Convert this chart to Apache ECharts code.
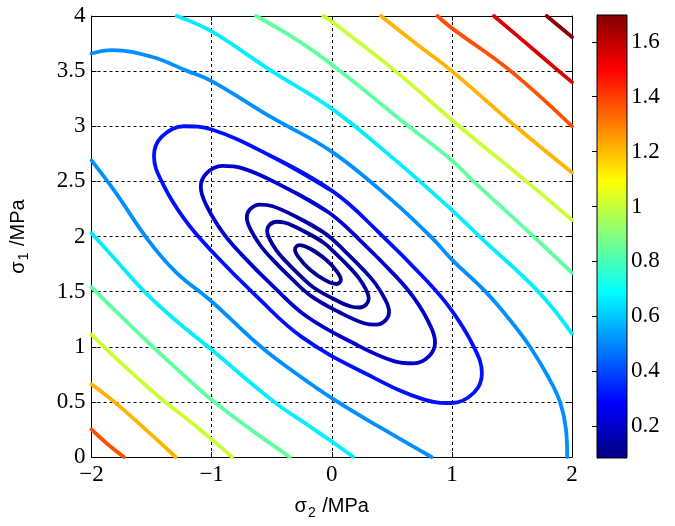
<!DOCTYPE html>
<html>
<head>
<meta charset="utf-8">
<script src="https://cdn.jsdelivr.net/npm/echarts@6/dist/echarts.min.js"></script>
<style>html,body{margin:0;padding:0;background:#fff}#chart{width:675px;height:526px}</style>
</head>
<body>
<div id="chart"></div>
<script>
// ---------- data ----------
const xTicks = [-2, -1, 0, 1, 2];
const yTicks = [0, 0.5, 1, 1.5, 2, 2.5, 3, 3.5, 4];
const colorRange = [0.083, 1.698];
const colorTicks = [0.2, 0.4, 0.6, 0.8, 1, 1.2, 1.4, 1.6];

// contour levels (value of each drawn iso-line)
const levelE1 = 0.103, levelE2 = 0.127, levelE3 = 0.144, levelE4 = 0.204, levelE5 = 0.309;
const levelLightBlue = 0.511, levelCyan = 0.664, levelGreen = 0.84, levelYellowGreen = 1.012;
const levelOrange = 1.211, levelOrangeRed = 1.371, levelRed = 1.553, levelDarkRed = 1.68;

// closed contours around the minimum  [sigma2, sigma1]  (loop repeats its first two points)
const ellipse1 = [[-0.171,1.884],[-0.045,1.787],[0.04,1.687],[0.076,1.607],[0.041,1.569],[-0.059,1.606],[-0.185,1.703],[-0.27,1.803],[-0.306,1.883],[-0.271,1.921],[-0.171,1.884],[-0.045,1.787]];
const ellipse2 = [[-0.239,2.052],[-0.075,1.95],[0.04,1.838],[0.164,1.702],[0.229,1.618],[0.285,1.519],[0.308,1.44],[0.288,1.385],[0.231,1.356],[0.159,1.365],[0.009,1.438],[-0.155,1.54],[-0.27,1.652],[-0.394,1.788],[-0.459,1.872],[-0.515,1.971],[-0.538,2.05],[-0.518,2.105],[-0.461,2.134],[-0.389,2.125],[-0.239,2.052],[-0.075,1.95]];
const ellipse3 = [[-0.289,2.175],[-0.059,2.031],[0.102,1.875],[0.276,1.684],[0.367,1.567],[0.445,1.428],[0.477,1.318],[0.449,1.242],[0.369,1.2],[0.269,1.213],[0.059,1.315],[-0.171,1.459],[-0.332,1.615],[-0.506,1.806],[-0.597,1.923],[-0.675,2.062],[-0.707,2.172],[-0.679,2.248],[-0.599,2.29],[-0.499,2.277],[-0.289,2.175],[-0.059,2.031]];
const ellipse4 = [[-0.401,2.452],[-0.022,2.216],[0.242,1.959],[0.528,1.645],[0.678,1.452],[0.806,1.224],[0.86,1.042],[0.813,0.917],[0.681,0.849],[0.517,0.87],[0.171,1.038],[-0.208,1.274],[-0.472,1.531],[-0.758,1.845],[-0.908,2.038],[-1.036,2.266],[-1.09,2.448],[-1.043,2.573],[-0.911,2.641],[-0.747,2.62],[-0.401,2.452],[-0.022,2.216]];
const ellipse5 = [[-0.515,2.735],[0.015,2.405],[0.385,2.045],[0.785,1.605],[0.995,1.335],[1.175,1.015],[1.25,0.76],[1.185,0.585],[1.0,0.49],[0.77,0.52],[0.285,0.755],[-0.245,1.085],[-0.615,1.445],[-1.015,1.885],[-1.225,2.155],[-1.405,2.475],[-1.48,2.73],[-1.415,2.905],[-1.23,3.0],[-1.0,2.97],[-0.515,2.735],[0.015,2.405]];

// open contours, upper-right side
const lightBlueUpper = [[-2,3.66],[-1.83,3.69],[-1.5,3.63],[-1.2,3.5],[-1,3.41],[-0.5,3.08],[0,2.77],[0.5,2.33],[0.85,1.97],[1,1.79],[1.28,1.5],[1.5,1.22],[1.65,1.0],[1.8,0.73],[1.9,0.5],[1.95,0.25],[1.96,0]];
const cyanUpper = [[-1.29,4],[-1,3.86],[-0.5,3.5],[0,3.16],[0.5,2.72],[1,2.24],[1.26,1.97],[1.72,1.5],[2,1.12]];
const greenUpper = [[-0.63,4],[-0.3,3.79],[0,3.56],[0.64,3.0],[1,2.69],[1.18,2.5],[1.68,2.0],[2,1.67]];
const yellowGreenUpper = [[-0.07,4],[0,3.95],[0.53,3.5],[1.06,3.0],[1.62,2.5],[2,2.15]];
const orangeUpper = [[0.41,4],[0.7,3.75],[1,3.5],[1.53,3.0],[2,2.58]];
const orangeRedUpper = [[0.88,4],[1,3.89],[1.49,3.5],[2,3.0]];
const redUpper = [[1.35,4],[1.6,3.77],[1.89,3.5],[2,3.4]];
const darkRedUpper = [[1.79,4],[1.9,3.9],[2,3.81]];

// open contours, lower-left side
const lightBlueLower = [[-2,2.69],[-1.8,2.4],[-1.53,1.97],[-1.3,1.68],[-1,1.41],[-0.59,1.0],[-0.3,0.76],[0.02,0.52],[0.4,0.27],[0.83,0]];
const cyanLower = [[-2,2.03],[-1.8,1.79],[-1.56,1.5],[-1.3,1.24],[-1.03,1.0],[-0.48,0.5],[-0.2,0.29],[0,0.14],[0.18,0]];
const greenLower = [[-2,1.54],[-1.75,1.27],[-1.49,1.0],[-1.24,0.75],[-0.99,0.51],[-0.65,0.23],[-0.35,0]];
const yellowGreenLower = [[-2,1.11],[-1.8,0.9],[-1.6,0.7],[-1.4,0.51],[-1.2,0.34],[-1,0.16],[-0.83,0]];
const orangeLower = [[-2,0.66],[-1.81,0.5],[-1.55,0.25],[-1.3,0]];
const orangeRedLower = [[-2,0.25],[-1.87,0.12],[-1.73,0]];

// ---------- build ----------
const contourTable = [
  [levelE1, ellipse1], [levelE2, ellipse2], [levelE3, ellipse3], [levelE4, ellipse4], [levelE5, ellipse5],
  [levelLightBlue, lightBlueUpper], [levelLightBlue, lightBlueLower],
  [levelCyan, cyanUpper], [levelCyan, cyanLower],
  [levelGreen, greenUpper], [levelGreen, greenLower],
  [levelYellowGreen, yellowGreenUpper], [levelYellowGreen, yellowGreenLower],
  [levelOrange, orangeUpper], [levelOrange, orangeLower],
  [levelOrangeRed, orangeRedUpper], [levelOrangeRed, orangeRedLower],
  [levelRed, redUpper], [levelDarkRed, darkRedUpper]
];

function clamp01(v) { return Math.max(0, Math.min(1, v)); }
function jet(t) {
  t = clamp01(t);
  const r = clamp01(1.5 - Math.abs(4 * t - 3));
  const g = clamp01(1.5 - Math.abs(4 * t - 2));
  const b = clamp01(1.5 - Math.abs(4 * t - 1));
  return 'rgb(' + Math.round(r * 255) + ',' + Math.round(g * 255) + ',' + Math.round(b * 255) + ')';
}
function levelColor(v) { return jet((v - colorRange[0]) / (colorRange[1] - colorRange[0])); }

const serif = 'Liberation Serif';
const sans = 'Liberation Sans';
const tickFont = { fontFamily: serif, fontSize: 23, color: '#000' };
const dash = { color: '#000', width: 1, type: [3, 3] };
const blackLine = { color: '#000', width: 1 };
const minusFmt = v => (v < 0 ? '\u2212' + (-v) : String(v));

const titleRich = {
  s: { fontFamily: sans, fontSize: 20, color: '#000' },
  sub: { fontFamily: sans, fontSize: 14, color: '#000', padding: [13, 1, 0, 1] }
};

const contourSeries = contourTable.map(([lvl, pts]) => ({
  type: 'line',
  xAxisIndex: 0, yAxisIndex: 0,
  data: pts,
  smooth: 0.4,
  showSymbol: false,
  symbol: 'none',
  clip: true,
  silent: true,
  lineStyle: { color: levelColor(lvl), width: 3.8, join: 'round', cap: 'round' },
  z: 3
}));

const jetStops = [0, 0.125, 0.375, 0.625, 0.875, 1].map(o => ({ offset: o, color: jet(o) }));

const colorbarSeries = {
  type: 'custom',
  xAxisIndex: 2, yAxisIndex: 2,
  data: [[0, colorRange[0], 1, colorRange[1]]],
  silent: true,
  renderItem: function (params, api) {
    const p0 = api.coord([api.value(0), api.value(1)]);
    const p1 = api.coord([api.value(2), api.value(3)]);
    return {
      type: 'rect',
      shape: { x: p0[0], y: p1[1], width: p1[0] - p0[0], height: p0[1] - p1[1] },
      style: {
        fill: new echarts.graphic.LinearGradient(0, 1, 0, 0, jetStops),
        stroke: '#000', lineWidth: 1
      }
    };
  },
  z: 2
};

const chart = echarts.init(document.getElementById('chart'), null, { renderer: 'canvas' });
chart.setOption({
  animation: false,
  backgroundColor: '#fff',
  grid: [
    { left: 90, top: 16, width: 482, height: 441, containLabel: false },
    { left: 597, top: 15, width: 30, height: 443, containLabel: false }
  ],
  xAxis: [
    {
      gridIndex: 0, type: 'value', position: 'bottom',
      min: xTicks[0], max: xTicks[xTicks.length - 1], interval: 1,
      axisLine: { show: true, onZero: false, lineStyle: blackLine },
      axisTick: { show: true, inside: true, length: 5, lineStyle: blackLine },
      axisLabel: Object.assign({ margin: 6, formatter: minusFmt }, tickFont),
      splitLine: { show: true, lineStyle: dash },
      name: '{s|\u03c3}{sub|2}{s| /MPa}',
      nameLocation: 'middle', nameGap: 36,
      nameTextStyle: { rich: titleRich }
    },
    {
      gridIndex: 0, type: 'value', position: 'top',
      min: xTicks[0], max: xTicks[xTicks.length - 1], interval: 1,
      axisLine: { show: true, onZero: false, lineStyle: blackLine },
      axisTick: { show: true, inside: true, length: 5, lineStyle: blackLine },
      axisLabel: { show: false },
      splitLine: { show: false }
    },
    { gridIndex: 1, type: 'value', min: 0, max: 1, show: false }
  ],
  yAxis: [
    {
      gridIndex: 0, type: 'value', position: 'left',
      min: yTicks[0], max: yTicks[yTicks.length - 1], interval: 0.5,
      axisLine: { show: true, onZero: false, lineStyle: blackLine },
      axisTick: { show: true, inside: true, length: 5, lineStyle: blackLine },
      axisLabel: Object.assign({ margin: 6, formatter: v => String(v) }, tickFont),
      splitLine: { show: true, lineStyle: dash },
      name: '{s|\u03c3}{sub|1}{s| /MPa}',
      nameLocation: 'middle', nameGap: 60, nameRotate: 90,
      nameTextStyle: { rich: titleRich }
    },
    {
      gridIndex: 0, type: 'value', position: 'right',
      min: yTicks[0], max: yTicks[yTicks.length - 1], interval: 0.5,
      axisLine: { show: true, onZero: false, lineStyle: blackLine },
      axisTick: { show: true, inside: true, length: 5, lineStyle: blackLine },
      axisLabel: { show: false },
      splitLine: { show: false }
    },
    {
      gridIndex: 1, type: 'value', position: 'right',
      min: colorRange[0], max: colorRange[1],
      axisLine: { show: true, lineStyle: blackLine },
      axisTick: { show: true, inside: true, length: 5, lineStyle: blackLine, customValues: colorTicks },
      axisLabel: Object.assign({ margin: 4, customValues: colorTicks, formatter: v => String(Math.round(v * 10) / 10) }, tickFont),
      splitLine: { show: false }
    }
  ],
  series: contourSeries.concat([colorbarSeries])
});
</script>
</body>
</html>
